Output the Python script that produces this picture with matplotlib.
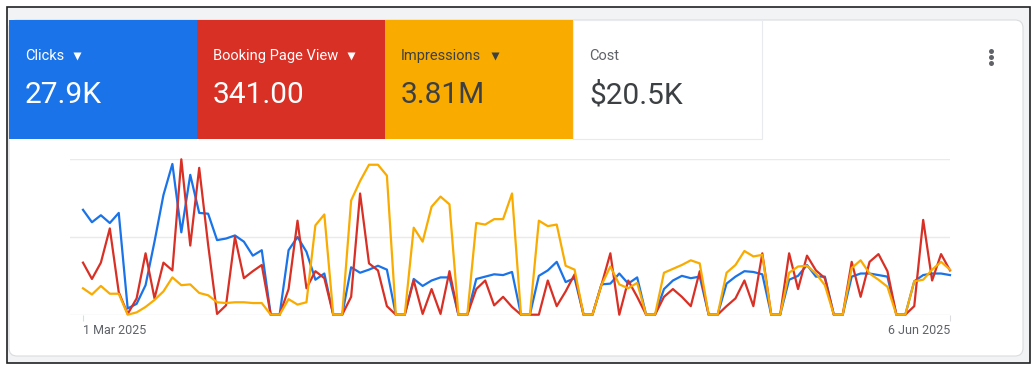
import numpy as np
import pandas as pd
import matplotlib
matplotlib.use("Agg")
import matplotlib.pyplot as plt
from matplotlib.patches import Rectangle, FancyBboxPatch

plt.rcParams["font.family"] = ["Roboto", "DejaVu Sans"]

# scorecards
card_labels = ["Clicks", "Booking Page View", "Impressions", "Cost"]
card_values = ["27.9K", "341.00", "3.81M", "$20.5K"]

# daily series, 1 Mar - 6 Jun 2025, each on its own relative scale (grid = 0, 1, 2)
dates = pd.date_range("2025-03-01", "2025-06-06", freq="D")
clicks = [1.35, 1.19, 1.28, 1.18, 1.31, 0.08, 0.14, 0.38, 0.94, 1.54,
          1.94, 1.06, 1.80, 1.31, 1.30, 0.96, 0.98, 1.02, 0.94, 0.76,
          0.83, 0.00, 0.00, 0.83, 1.00, 0.81, 0.45, 0.53, 0.00, 0.00,
          0.61, 0.54, 0.58, 0.63, 0.58, 0.00, 0.00, 0.46, 0.37, 0.44,
          0.48, 0.48, 0.00, 0.00, 0.46, 0.49, 0.52, 0.51, 0.55, 0.00,
          0.00, 0.50, 0.57, 0.68, 0.42, 0.47, 0.00, 0.00, 0.39, 0.40,
          0.53, 0.40, 0.48, 0.00, 0.00, 0.33, 0.44, 0.50, 0.47, 0.49,
          0.00, 0.00, 0.40, 0.49, 0.56, 0.55, 0.52, 0.00, 0.00, 0.45,
          0.50, 0.64, 0.49, 0.49, 0.00, 0.00, 0.49, 0.53, 0.53, 0.51,
          0.49, 0.00, 0.00, 0.43, 0.51, 0.53, 0.53, 0.51]
booking = [0.67, 0.46, 0.67, 1.11, 0.29, 0.01, 0.21, 0.79, 0.21, 0.67,
           0.57, 2.00, 0.89, 1.89, 0.90, 0.01, 0.12, 1.00, 0.47, 0.56,
           0.64, 0.00, 0.00, 0.33, 1.21, 0.34, 0.56, 0.47, 0.00, 0.00,
           0.23, 1.56, 0.66, 0.57, 0.11, 0.00, 0.00, 0.44, 0.01, 0.33,
           0.01, 0.56, 0.00, 0.00, 0.33, 0.44, 0.12, 0.23, 0.10, 0.00,
           0.00, 0.00, 0.44, 0.11, 0.30, 0.52, 0.00, 0.00, 0.38, 0.79,
           0.00, 0.44, 0.23, 0.00, 0.00, 0.23, 0.33, 0.23, 0.11, 0.56,
           0.00, 0.00, 0.11, 0.21, 0.44, 0.11, 0.79, 0.00, 0.00, 0.79,
           0.33, 0.76, 0.57, 0.47, 0.00, 0.00, 0.68, 0.23, 0.68, 0.78,
           0.56, 0.00, 0.00, 0.11, 1.22, 0.44, 0.78, 0.57]
impressions = [0.34, 0.26, 0.37, 0.27, 0.27, 0.00, 0.03, 0.10, 0.19, 0.30,
               0.48, 0.38, 0.39, 0.28, 0.25, 0.16, 0.15, 0.16, 0.16, 0.15,
               0.15, 0.00, 0.00, 0.20, 0.13, 0.16, 1.15, 1.29, 0.00, 0.00,
               1.47, 1.72, 1.93, 1.93, 1.79, 0.00, 0.00, 1.12, 0.94, 1.39,
               1.52, 1.42, 0.00, 0.00, 1.18, 1.16, 1.23, 1.23, 1.56, 0.00,
               0.00, 1.21, 1.14, 1.16, 0.63, 0.58, 0.00, 0.00, 0.38, 0.62,
               0.39, 0.34, 0.41, 0.00, 0.00, 0.54, 0.59, 0.64, 0.70, 0.66,
               0.00, 0.00, 0.54, 0.64, 0.82, 0.75, 0.77, 0.00, 0.00, 0.54,
               0.62, 0.63, 0.53, 0.38, 0.00, 0.00, 0.60, 0.70, 0.53, 0.45,
               0.36, 0.00, 0.00, 0.43, 0.45, 0.58, 0.68, 0.58]

BLUE, RED, ORANGE = "#1a73e8", "#d93025", "#f9ab00"

W, H = 1036, 368
fig = plt.figure(figsize=(W / 100, H / 100), dpi=100)

# page chrome drawn in pixel coordinates
bg = fig.add_axes([0, 0, 1, 1], zorder=0)
bg.set_xlim(0, W)
bg.set_ylim(H, 0)
bg.axis("off")
bg.add_patch(Rectangle((0, 0), W, H, fc="white", ec="none"))
bg.add_patch(Rectangle((7, 7), 1023, 356, fc="#f1f3f4", ec="#202124", lw=1.2))
bg.add_patch(FancyBboxPatch((9, 20), 1014, 336, boxstyle="round,pad=0,rounding_size=8",
                            fc="white", ec="#dadce0", lw=0.8))

tile_w = 188
tile_fc = [BLUE, RED, ORANGE, "white"]
label_c = ["white", "white", "#3c4043", "#5f6368"]
value_c = ["white", "white", "#3c4043", "#3c4043"]
arrow_x = [77, 351, 495, None]
for i, (lab, val) in enumerate(zip(card_labels, card_values)):
    x0 = 9 + i * tile_w
    ec = "#e8eaed" if tile_fc[i] == "white" else "none"
    bg.add_patch(Rectangle((x0, 20), tile_w + (1 if i == 3 else 0), 119,
                           fc=tile_fc[i], ec=ec, lw=0.8))
    bg.text(x0 + 16, 56, lab, color=label_c[i], fontsize=10.5, va="center", ha="left")
    bg.text(x0 + 16, 95, val, color=value_c[i], fontsize=21.5, va="center", ha="left")
    if arrow_x[i] is not None:
        bg.plot(arrow_x[i], 56, marker="v", ms=6, color=label_c[i], mec="none")

# kebab menu
for yy in (51, 57, 63):
    bg.plot(991, yy, marker="o", ms=3.6, color="#5f6368", mec="none")

# line chart
step = (950 - 83) / 97
ax = fig.add_axes([70 / W, (H - 314.7) / H, 880 / W, 155.4 / H], zorder=2)
ax.patch.set_alpha(0)
x = np.arange(len(dates))
ax.plot(x, clicks, color=BLUE, lw=1.6, clip_on=False)
ax.plot(x, booking, color=RED, lw=1.6, clip_on=False)
ax.plot(x, impressions, color=ORANGE, lw=1.6, clip_on=False)
ax.set_xlim(-13 / step, len(dates) - 1)
ax.set_ylim(0, 2)
ax.set_yticks([0, 1, 2])
ax.grid(axis="y", color="#e8eaed", lw=1)
ax.set_axisbelow(True)
ax.tick_params(axis="y", left=False, labelleft=False)
for s in ax.spines.values():
    s.set_visible(False)

ticks = [0, len(dates) - 1]
ax.set_xticks(ticks)
ax.set_xticklabels([f"{dates[t].day} {dates[t]:%b %Y}" for t in ticks])
ax.tick_params(axis="x", length=4, width=0.8, color="#dadce0",
               labelcolor="#5f6368", labelsize=9, pad=3)
lbls = ax.get_xticklabels()
lbls[0].set_ha("left")
lbls[1].set_ha("right")

fig.savefig("out.png", dpi=100)
